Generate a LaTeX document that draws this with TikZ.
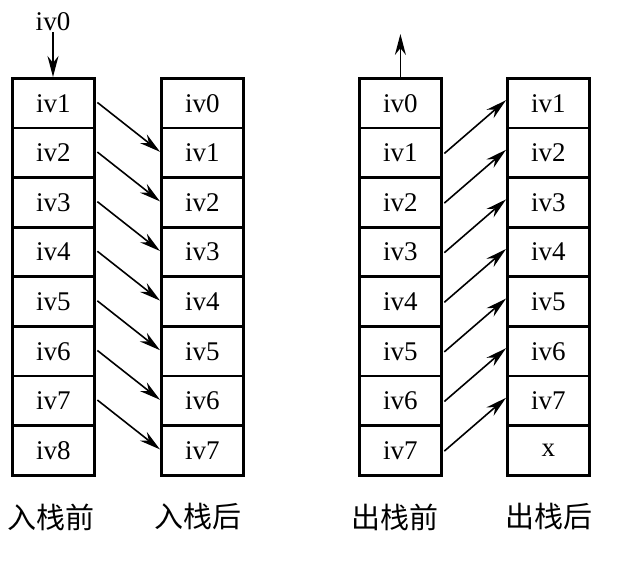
\documentclass[tikz,border=0pt]{standalone}
\usepackage{fontspec}
\setmainfont{Liberation Serif}
\newfontfamily\cjk{Noto Sans CJK SC}
\usetikzlibrary{arrows.meta}
\begin{document}
\begin{tikzpicture}[x=1pt,y=-1pt,
  cell/.style={draw, line width=2.8pt, minimum width=82pt, minimum height=49.6pt, inner sep=0pt, font=\fontsize{27}{27}\selectfont, anchor=north west},
  arr/.style={-{Stealth[length=21pt,width=11pt]}, line width=1.6pt},
  lab/.style={font=\cjk\fontsize{29}{29}\selectfont}]
\useasboundingbox (0,0) rectangle (629,565);
\foreach \t [count=\i] in {iv1,iv2,iv3,iv4,iv5,iv6,iv7,iv8}
  \node[cell] (a\i) at (11,{77+(\i-1)*49.6}) {\t};
\foreach \t [count=\i] in {iv0,iv1,iv2,iv3,iv4,iv5,iv6,iv7}
  \node[cell] (b\i) at (160,{77+(\i-1)*49.6}) {\t};
\foreach \t [count=\i] in {iv0,iv1,iv2,iv3,iv4,iv5,iv6,iv7}
  \node[cell] (c\i) at (358,{77+(\i-1)*49.6}) {\t};
\foreach \t [count=\i] in {iv1,iv2,iv3,iv4,iv5,iv6,iv7,x}
  \node[cell] (d\i) at (506,{77+(\i-1)*49.6}) {\t};
\foreach \i/\j in {1/2,2/3,3/4,4/5,5/6,6/7,7/8}{
  \draw[arr, shorten <=2pt] ([yshift=2pt]a\i.east) -- ([yshift=1pt]b\j.west);
  \draw[arr, shorten <=2pt] ([yshift=-2pt]c\j.east) -- ([yshift=3pt]d\i.west);
}
\node[font=\fontsize{27}{27}\selectfont, inner sep=1pt] (in) at (53,22) {iv0};
\draw[arr] (in.south) -- (a1.north -| in.south);
\coordinate (up) at ([yshift=43pt]c1.north);
\draw[arr] (c1.north) -- (up);
\node[lab] (l1) at (51,517) {入栈前};
\node[lab] (l2) at (198,517) {入栈后};
\node[lab] (l3) at (395,517) {出栈前};
\node[lab] (l4) at (549,517) {出栈后};
\end{tikzpicture}
\end{document}
